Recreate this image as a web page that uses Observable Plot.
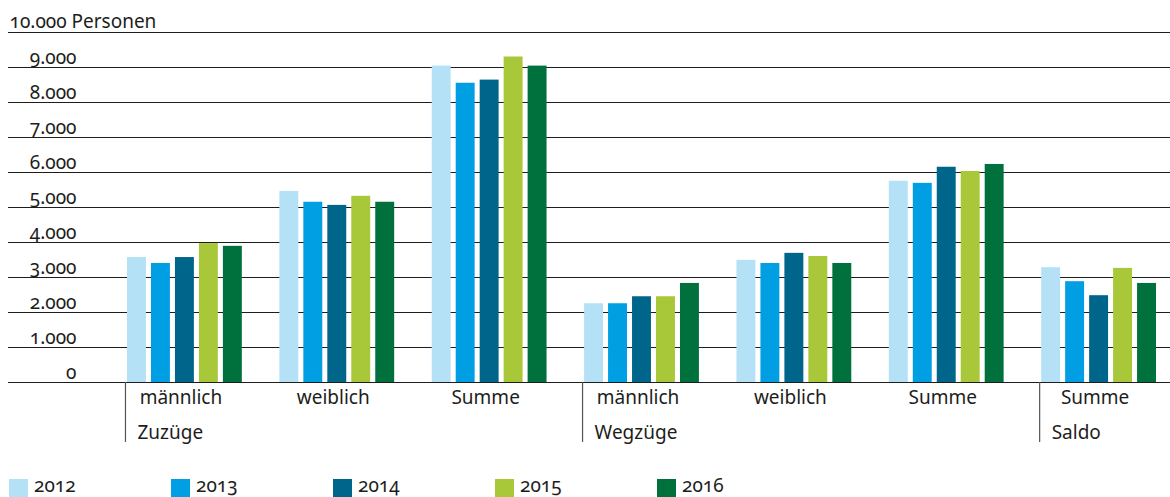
<!DOCTYPE html>
<html><head><meta charset="utf-8">
<script src="https://cdn.jsdelivr.net/npm/d3@7"></script>
<script src="https://cdn.jsdelivr.net/npm/@observablehq/plot@0.6"></script>
<style>
body{margin:0;background:#fff;font-family:"Noto Sans",sans-serif;color:#1d1d1b;font-feature-settings:"onum" 1;font-variant-numeric:oldstyle-nums}
#wrap{position:relative;width:1170px;height:497px;overflow:hidden;background:#fff}
#chart svg{display:block;font-feature-settings:"onum" 1;font-variant-numeric:oldstyle-nums}
#chart svg text{font-feature-settings:"onum" 1;font-variant-numeric:oldstyle-nums}
#legend{position:absolute;left:0;top:470px;width:1170px;height:27px}
.item{position:absolute;top:0;height:27px}
.sw{position:absolute;left:0;top:9px;width:19px;height:18px}
.lb{position:absolute;left:25px;top:4px;font-size:19px;line-height:22px;white-space:nowrap}
</style></head><body>
<div id="wrap"><div id="chart"></div><div id="legend"></div></div>
<script>
// ---- data ----
const years = ["2012", "2013", "2014", "2015", "2016"];
const sections = ["Zuzüge", "Zuzüge", "Zuzüge", "Wegzüge", "Wegzüge", "Wegzüge", "Saldo"];
const categories = ["männlich", "weiblich", "Summe", "männlich", "weiblich", "Summe", "Summe"];
const v2012 = [3570, 5460, 9040, 2250, 3490, 5750, 3280];
const v2013 = [3400, 5150, 8550, 2250, 3400, 5690, 2880];
const v2014 = [3570, 5060, 8640, 2450, 3690, 6150, 2480];
const v2015 = [3970, 5320, 9300, 2450, 3600, 6030, 3260];
const v2016 = [3890, 5150, 9040, 2830, 3400, 6230, 2830];
const colors = ["#b5e1f7", "#009fe3", "#00658b", "#a8c83a", "#00713d"];
const yTicks = [0, 1000, 2000, 3000, 4000, 5000, 6000, 7000, 8000, 9000];
const gridTicks = [0, 1000, 2000, 3000, 4000, 5000, 6000, 7000, 8000, 9000, 10000];
const topLabel = "10.000 Personen";

const seriesValues = [v2012, v2013, v2014, v2015, v2016];
const groups = categories.map((c, i) => ({key: i, category: c, section: sections[i]}));
const sectionStarts = groups.filter((g, i) => i === 0 || sections[i - 1] !== g.section);
const rows = [];
groups.forEach((g, i) => years.forEach((yr, j) => rows.push({key: i, year: yr, value: seriesValues[j][i]})));
const fmt = d => d3.format(",")(d).replace(/,/g, ".");

const W = 1170, H = 470, mT = 32, mB = 88, mL = 127, mR = 14;
const ink = "#1d1d1b";

const chart = Plot.plot({
  width: W, height: H,
  marginTop: mT, marginBottom: mB, marginLeft: mL, marginRight: mR,
  style: {fontFamily: '"Noto Sans", sans-serif', fontSize: "19px", color: ink, background: "#fff"},
  fx: {domain: groups.map(g => g.key), axis: null, paddingInner: 0.2464, paddingOuter: 0, round: false},
  x: {domain: years, axis: null, paddingInner: 0.21, paddingOuter: 0, round: false},
  y: {domain: [0, 10000]},
  color: {domain: years, range: colors},
  marks: [
    // gridlines: left part and right part from the leftmost facet edge
    Plot.axisY({ticks: gridTicks, tickSize: mL - 8, tickFormat: () => "", label: null, stroke: ink, strokeOpacity: 1}),
    Plot.axisY({ticks: gridTicks, tickSize: -(W - mL), tickFormat: () => "", label: null, stroke: ink, strokeOpacity: 1}),
    // tick labels
    Plot.axisY({ticks: yTicks, tickSize: 0, tickPadding: mL - 76, tickFormat: fmt, label: null, fill: ink, fontSize: 19, dy: -10}),
    Plot.axisY({ticks: [10000], tickSize: 0, tickPadding: mL - 9, tickFormat: () => topLabel, textAnchor: "start", label: null, fill: ink, fontSize: 19, dy: -11}),
    Plot.barY(rows, {fx: "key", x: "year", y: "value", fill: "year"}),
    Plot.text(groups, {fx: "key", text: "category", frameAnchor: "bottom", lineAnchor: "top", dy: 8, dx: -4, fill: ink}),
    Plot.text(sectionStarts, {fx: "key", text: "section", frameAnchor: "bottom-left", textAnchor: "start", lineAnchor: "top", dy: 43, dx: 10, fill: ink}),
    Plot.ruleX(sectionStarts, {fx: "key", x: () => years[0], dx: -11.5, insetTop: H - mT - mB, insetBottom: -60, stroke: "#555", strokeWidth: 1.2})
  ]
});
document.getElementById("chart").appendChild(chart);

// legend
const legend = d3.select("#legend");
years.forEach((yr, i) => {
  const it = legend.append("div").attr("class", "item").style("left", (9 + i * 162) + "px");
  it.append("div").attr("class", "sw").style("background", colors[i]);
  it.append("div").attr("class", "lb").text(yr);
});
</script>
</body></html>
